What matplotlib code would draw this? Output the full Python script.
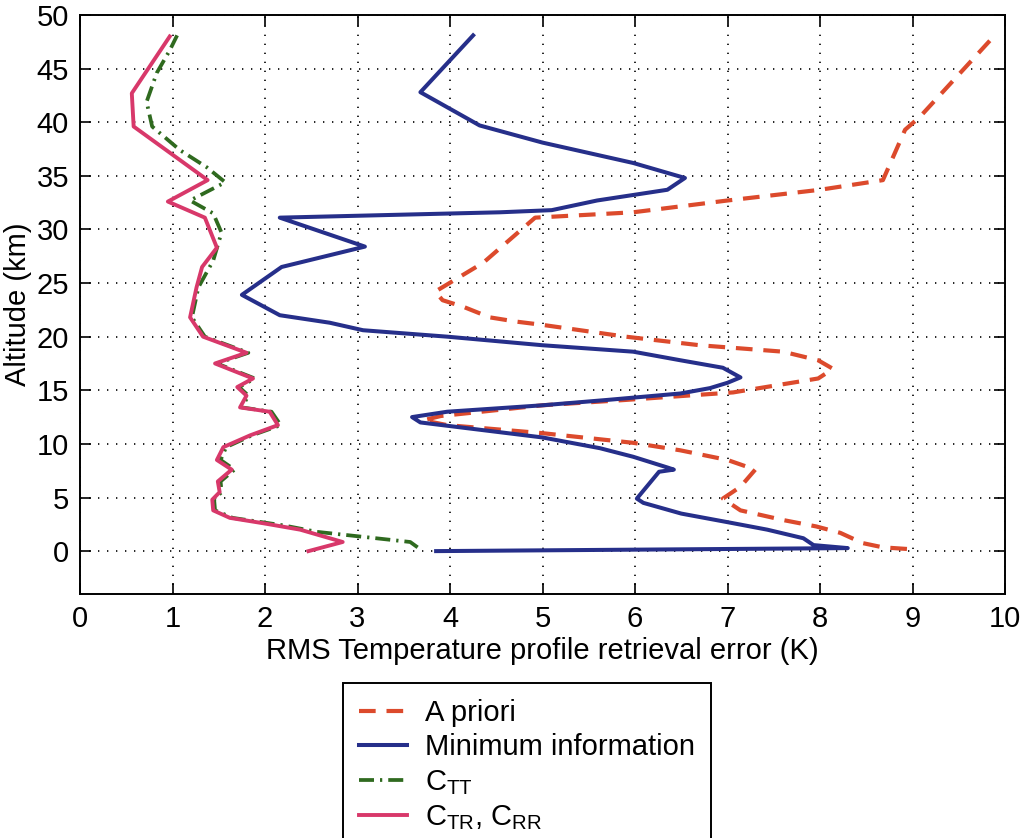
import matplotlib
matplotlib.use("Agg")
import matplotlib.pyplot as plt

plt.rcParams['font.family'] = ['Liberation Sans', 'DejaVu Sans']
plt.rcParams['mathtext.fontset'] = 'custom'
plt.rcParams['mathtext.rm'] = 'Liberation Sans'
plt.rcParams['mathtext.it'] = 'Liberation Sans'

# ---- data (altitude km, RMS error K) ----
apriori_alt = [0.2, 0.35, 0.75, 1.7, 2.3, 2.9, 3.8, 4.9, 6.0, 7.6, 8.5, 9.4, 10.1, 11.0,
               11.75, 12.2, 12.6, 13.6, 14.1, 14.8, 16.1, 17.0, 17.8, 18.6, 19.2, 20.0,
               21.1, 21.4, 21.8, 22.8, 23.4, 24.2, 26.9, 29.9, 31.1, 31.6, 32.7, 33.7,
               34.6, 39.3, 40.5, 48.3]
apriori_err = [8.94, 8.68, 8.46, 8.22, 7.96, 7.6, 7.14, 6.95, 7.14, 7.3, 7.0, 6.49, 5.98, 5.0,
               3.97, 3.71, 3.9, 5.0, 5.9, 7.06, 7.98, 8.14, 7.98, 7.6, 6.7, 5.9,
               5.0, 4.72, 4.43, 4.14, 3.92, 3.84, 4.36, 4.76, 4.92, 5.98, 7.0, 8.0,
               8.68, 8.92, 9.08, 9.91]

mininfo_alt = [0.0, 0.28, 0.56, 1.2, 2.0, 2.7, 3.5, 4.5, 4.9, 7.4, 7.6, 7.8, 8.8, 9.6,
               10.6, 12.0, 12.5, 13.0, 13.6, 14.1, 14.7, 15.2, 15.7, 16.2, 17.1, 17.8,
               18.6, 19.2, 20.0, 20.6, 21.3, 22.0, 23.9, 26.5, 28.4, 31.1, 31.6, 31.8,
               32.7, 33.7, 34.8, 36.2, 38.1, 39.7, 42.8, 48.1]
mininfo_err = [3.85, 8.3, 7.93, 7.82, 7.43, 7.0, 6.5, 6.09, 6.02, 6.26, 6.42, 6.35, 5.98, 5.62,
               5.0, 3.68, 3.59, 3.97, 5.0, 5.7, 6.49, 6.81, 7.0, 7.14, 6.95, 6.49,
               5.98, 5.0, 3.97, 3.06, 2.7, 2.16, 1.75, 2.18, 3.08, 2.16, 4.54, 5.1,
               5.59, 6.35, 6.54, 5.98, 5.0, 4.32, 3.68, 4.25]

ctt_alt = [0.35, 0.85, 1.2, 1.5, 1.8, 2.4, 3.1, 3.8, 4.8, 5.5, 6.5, 7.6, 8.5, 9.7, 10.8,
           11.75, 13.0, 13.4, 14.5, 15.3, 16.1, 17.5, 18.5, 20.0, 21.8, 24.6, 27.1,
           29.7, 31.5, 32.7, 34.4, 35.8, 37.4, 39.6, 41.9, 44.6, 46.7, 48.1]
ctt_err = [3.65, 3.57, 3.2, 2.88, 2.56, 2.2, 1.65, 1.46, 1.45, 1.53, 1.52, 1.67, 1.52, 1.58, 1.86,
           2.17, 2.07, 1.75, 1.82, 1.72, 1.89, 1.48, 1.82, 1.35, 1.21, 1.28, 1.44,
           1.53, 1.44, 1.19, 1.57, 1.37, 1.08, 0.78, 0.72, 0.83, 0.97, 1.05]

ctr_alt = [0.0, 0.85, 2.0, 2.6, 3.1, 3.8, 4.8, 5.5, 6.5, 7.6, 8.5, 9.7, 10.8, 11.75,
           13.0, 13.4, 14.5, 15.3, 16.1, 17.5, 18.5, 20.0, 21.8, 24.6, 26.5, 28.3,
           31.1, 32.6, 34.6, 39.6, 42.7, 48.0]
ctr_err = [2.47, 2.84, 2.38, 1.98, 1.62, 1.44, 1.43, 1.51, 1.49, 1.64, 1.48, 1.55, 1.84, 2.14,
           2.05, 1.73, 1.80, 1.70, 1.87, 1.46, 1.80, 1.33, 1.19, 1.26, 1.32, 1.48,
           1.35, 0.95, 1.38, 0.58, 0.56, 0.97]

x_ticks = [0, 1, 2, 3, 4, 5, 6, 7, 8, 9, 10]
y_ticks = [0, 5, 10, 15, 20, 25, 30, 35, 40, 45, 50]

labels = ['A priori', 'Minimum information', r'C$_{\mathregular{TT}}$',
          r'C$_{\mathregular{TR}}$, C$_{\mathregular{RR}}$']

# ---- styles ----
c_red = '#dc4a2c'
c_blue = '#262f8a'
c_green = '#2f6a1f'
c_pink = '#d8386a'
FS = 21

fig = plt.figure(figsize=(10.25, 8.38), dpi=100)
ax = fig.add_axes([80/1025, 1-594/838, (1005-80)/1025, (594-15)/838])

l1, = ax.plot(apriori_err, apriori_alt, color=c_red, lw=3.0, dashes=(4.0, 2.6),
              solid_capstyle='butt', dash_capstyle='butt')
l2, = ax.plot(mininfo_err, mininfo_alt, color=c_blue, lw=2.9, solid_joinstyle='round')
l3, = ax.plot(ctt_err, ctt_alt, color=c_green, lw=2.7, dashes=(4.0, 1.6, 0.6, 1.6),
              dash_capstyle='butt')
l4, = ax.plot(ctr_err, ctr_alt, color=c_pink, lw=2.8, solid_joinstyle='round')

ax.set_xlim(0, 10)
ax.set_ylim(-4, 50)
ax.set_xticks(x_ticks)
ax.set_yticks(y_ticks)
ax.grid(True, color='black', linestyle=(0, (0.8, 4.6)), linewidth=1.2)
ax.tick_params(direction='in', length=8, width=1.2, top=True, right=True,
               labelsize=FS, pad=8)
for s in ax.spines.values():
    s.set_linewidth(1.4)
ax.set_xlabel('RMS Temperature profile retrieval error (K)', fontsize=FS, labelpad=3)
ax.set_ylabel('Altitude (km)', fontsize=FS, labelpad=3)

leg = fig.legend([l1, l2, l3, l4], labels, loc='upper left',
                 bbox_to_anchor=(343/1025, 1-683/838), bbox_transform=fig.transFigure,
                 borderaxespad=0, fancybox=False, framealpha=1, edgecolor='black',
                 fontsize=FS, handlelength=1.65, handletextpad=0.6, labelspacing=0.22,
                 borderpad=0.55)
leg.get_frame().set_linewidth(1.4)

fig.savefig('out.png', dpi=100)
